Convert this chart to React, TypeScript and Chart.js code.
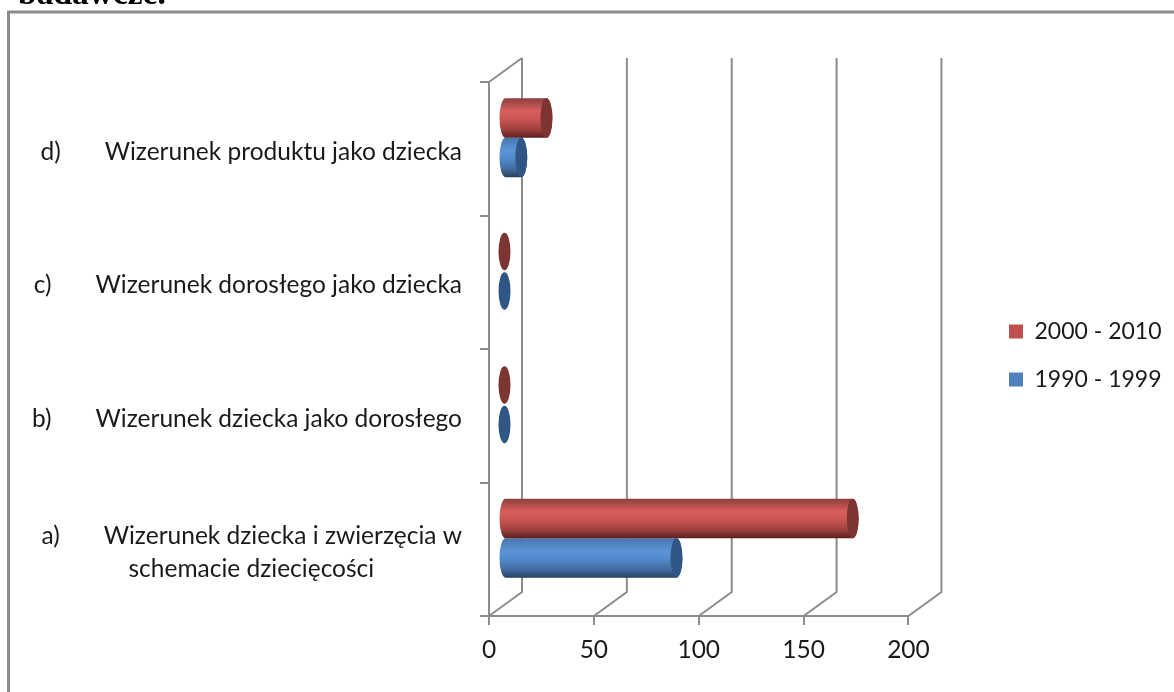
import { useEffect, useRef } from "react";
import { Chart, registerables } from "chart.js";

Chart.register(...registerables);

const categories = [
  ["d)       Wizerunek produktu jako dziecka"],
  ["c)       Wizerunek dorosłego jako dziecka"],
  ["b)       Wizerunek dziecka jako dorosłego"],
  ["a)       Wizerunek dziecka i zwierzęcia w", "schemacie dziecięcości              "],
];
const series2000 = [20, 0, 0, 166];
const series1990 = [8, 0, 0, 82];
const seriesNames = ["2000 - 2010", "1990 - 1999"];
const seriesColors = ["#C0504D", "#4F81BD"];
const tickStops = [0, 50, 100, 150, 200];
const heading = "badawcze.";

const DEPTH_X = 33;
const DEPTH_Y = 24;
const AXIS_COLOR = "#8c8c8c";
const FONT = "Lato, sans-serif";

// Shading for each series: body gradient stops, then the end-cap colour.
const cylinderShades = [
  { stops: ["#8c3f3d", "#d95e5b", "#c85452", "#9a3f3d", "#5c1f1e"], cap: "#7c3533" },
  { stops: ["#4776ad", "#5b95d8", "#5289c8", "#3f6a9e", "#26405f"], cap: "#2f5684" },
];

const depthPlugin = {
  id: "depthWalls",
  beforeDraw(chart: any) {
    const { ctx } = chart;
    ctx.save();
    ctx.strokeStyle = AXIS_COLOR;
    ctx.lineWidth = 3;
    ctx.beginPath();
    ctx.moveTo(8.5, 692);
    ctx.lineTo(8.5, 12);
    ctx.lineTo(1174, 12);
    ctx.stroke();
    ctx.fillStyle = "#000";
    ctx.font = "bold 33.5px 'Liberation Serif', serif";
    ctx.textBaseline = "alphabetic";
    ctx.fillText(heading, 18, 4);
    ctx.restore();
  },
  beforeDatasetsDraw(chart: any) {
    const { ctx, chartArea, scales } = chart;
    const { top, bottom, left } = chartArea;
    ctx.save();
    ctx.strokeStyle = AXIS_COLOR;
    ctx.lineWidth = 2;
    ctx.beginPath();
    scales.x.ticks.forEach((t: any) => {
      const x = scales.x.getPixelForValue(t.value);
      ctx.moveTo(x, bottom);
      ctx.lineTo(x + DEPTH_X, bottom - DEPTH_Y);
      ctx.lineTo(x + DEPTH_X, top - DEPTH_Y);
    });
    ctx.moveTo(left, top);
    ctx.lineTo(left + DEPTH_X, top - DEPTH_Y);
    ctx.stroke();
    ctx.restore();
  },
  beforeDatasetDraw() {
    return false;
  },
  afterDatasetsDraw(chart: any) {
    const { ctx } = chart;
    const rx = 6;
    const shiftX = 15.5;
    const shiftY = -11;
    // Paint lower series first so the upper cylinder overlaps it.
    [1, 0].forEach((di) => {
      const shade = cylinderShades[di];
      chart.getDatasetMeta(di).data.forEach((bar: any) => {
        const { x, y, base, height } = bar.getProps(["x", "y", "base", "height"], true);
        const cy = y + shiftY;
        const x0 = base + shiftX;
        const x1 = x + shiftX;
        const ry = height / 2;
        ctx.save();
        if (x1 > x0) {
          const g = ctx.createLinearGradient(0, cy - ry, 0, cy + ry);
          [0, 0.32, 0.55, 0.8, 1].forEach((p, i) => g.addColorStop(p, shade.stops[i]));
          ctx.fillStyle = g;
          ctx.beginPath();
          ctx.ellipse(x0, cy, rx, ry, 0, Math.PI / 2, (3 * Math.PI) / 2);
          ctx.lineTo(x1, cy - ry);
          ctx.ellipse(x1, cy, rx, ry, 0, -Math.PI / 2, Math.PI / 2);
          ctx.closePath();
          ctx.fill();
        }
        ctx.fillStyle = shade.cap;
        ctx.beginPath();
        ctx.ellipse(x1, cy, rx, ry - (x1 > x0 ? 0 : 1), 0, 0, Math.PI * 2);
        ctx.fill();
        ctx.restore();
      });
    });
  },
  afterLayout(chart: any) {
    // Keep the key well clear of the plot, level with the plot's middle.
    const legend = chart.legend;
    const width = legend.right - legend.left;
    legend.left = 984;
    legend.right = legend.left + width;
    legend.top = 295;
    legend.bottom = 692;
  },
};

export default function App() {
  const ref = useRef<HTMLCanvasElement>(null);
  useEffect(() => {
    document.body.style.margin = "0";
    const chart = new Chart(ref.current!, {
      type: "bar",
      data: {
        labels: categories as any,
        datasets: [
          { label: seriesNames[0], data: series2000, backgroundColor: seriesColors[0], borderWidth: 0 },
          { label: seriesNames[1], data: series1990, backgroundColor: seriesColors[1], borderWidth: 0 },
        ],
      },
      plugins: [depthPlugin],
      options: {
        indexAxis: "y",
        animation: false,
        responsive: false,
        categoryPercentage: 0.59,
        barPercentage: 1,
        layout: { padding: { top: 82, right: 78, bottom: 0, left: 0 } },
        scales: {
          x: {
            min: 0,
            max: 200,
            afterBuildTicks(scale: any) {
              scale.ticks = tickStops.map((value) => ({ value }));
            },
            afterFit(scale: any) {
              scale.height = 76;
            },
            border: { color: AXIS_COLOR, width: 2 },
            grid: { drawOnChartArea: false, color: AXIS_COLOR, lineWidth: 2, tickLength: 9 },
            ticks: { color: "#1a1a1a", padding: 10, maxRotation: 0, font: { family: FONT, size: 24.5 } },
          },
          y: {
            afterFit(scale: any) {
              scale.width = 489;
            },
            border: { color: AXIS_COLOR, width: 2 },
            grid: { drawOnChartArea: false, color: AXIS_COLOR, lineWidth: 2, tickLength: 9 },
            ticks: {
              color: "#1a1a1a",
              padding: 18,
              labelOffset: 3,
              autoSkip: false,
              font: { family: FONT, size: 24.5, lineHeight: 1.35 },
            },
          },
        },
        plugins: {
          title: { display: false },
          tooltip: { enabled: false },
          legend: {
            position: "right",
            align: "start",
            labels: {
              boxWidth: 14,
              boxHeight: 14,
              padding: 25,
              color: "#1a1a1a",
              font: { family: FONT, size: 23 },
            },
          },
        },
      } as any,
    });
    return () => chart.destroy();
  }, []);
  return <canvas ref={ref} width={1174} height={692} style={{ display: "block" }} />;
}
